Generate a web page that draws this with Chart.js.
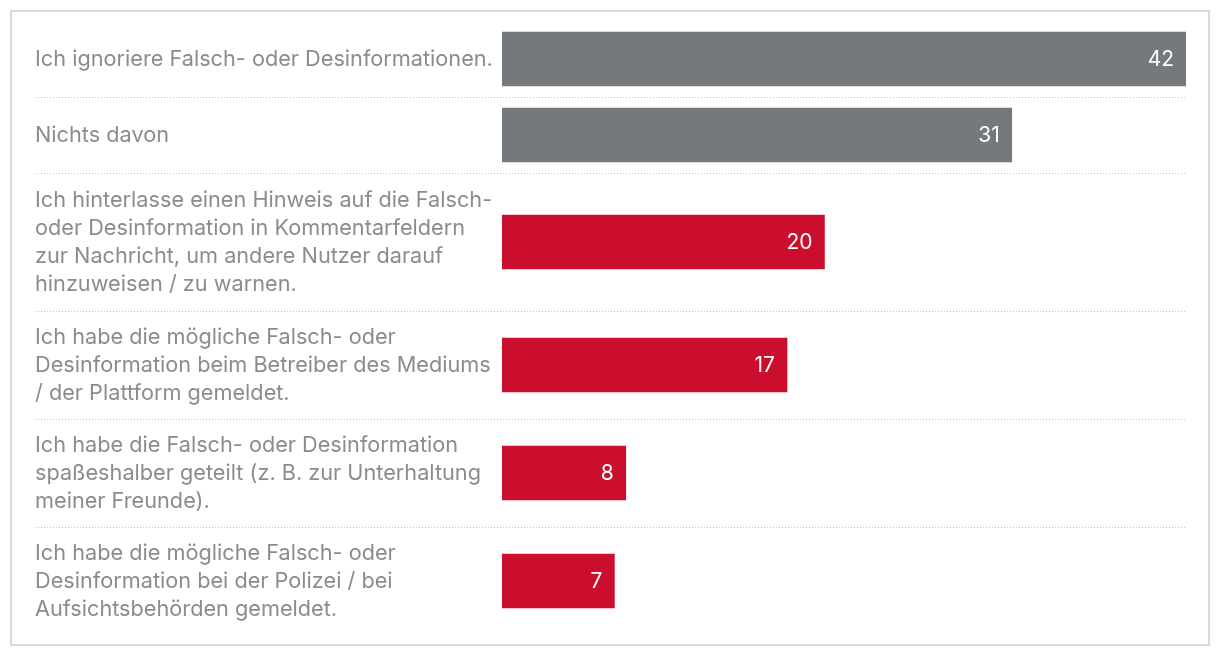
<!DOCTYPE html>
<html><head><meta charset="utf-8">
<script src="https://cdn.jsdelivr.net/npm/chart.js@4/dist/chart.umd.min.js"></script>
<style>html,body{margin:0;padding:0;background:#fff}#wrap{width:1220px;height:658px;position:relative}</style>
</head><body><div id="wrap"><canvas id="c" width="1220" height="658"></canvas></div>
<script>
const categories = [
  ["Ich ignoriere Falsch- oder Desinformationen."],
  ["Nichts davon"],
  ["Ich hinterlasse einen Hinweis auf die Falsch-", "oder Desinformation in Kommentarfeldern", "zur Nachricht, um andere Nutzer darauf", "hinzuweisen / zu warnen."],
  ["Ich habe die mögliche Falsch- oder", "Desinformation beim Betreiber des Mediums", "/ der Plattform gemeldet."],
  ["Ich habe die Falsch- oder Desinformation", "spaßeshalber geteilt (z. B. zur Unterhaltung", "meiner Freunde)."],
  ["Ich habe die mögliche Falsch- oder", "Desinformation bei der Polizei / bei", "Aufsichtsbehörden gemeldet."]
];
const values = [42, 31.3, 19.8, 17.5, 7.6, 6.9];
const valueLabels = ["42", "31", "20", "17", "8", "7"];
const seriesGroup = ["neutral", "neutral", "action", "action", "action", "action"];

const GRAY = '#75797b', RED = '#cc0e2e', TEXT = '#8c8c8c';
const FONT = 'Inter, Roboto, sans-serif';

// row heights grow with the number of label lines
const rowHeights = categories.map(l => Math.max(76, 18 + 30 * l.length));
const boundaries = [0];
rowHeights.forEach(h => boundaries.push(boundaries[boundaries.length - 1] + h));
const centers = rowHeights.map((h, i) => boundaries[i] + h / 2);
const total = boundaries[boundaries.length - 1];

const frame = {
  id: 'frame',
  beforeDraw(chart) {
    const ctx = chart.ctx;
    ctx.save();
    ctx.strokeStyle = '#dadada';
    ctx.lineWidth = 2;
    ctx.strokeRect(11, 11, 1198, 634);
    ctx.restore();
  },
  beforeDatasetsDraw(chart) {
    const ctx = chart.ctx, y = chart.scales.y, area = chart.chartArea;
    ctx.save();
    ctx.strokeStyle = '#c6c6c6';
    ctx.lineWidth = 1;
    ctx.setLineDash([1, 2]);
    for (let i = 1; i < boundaries.length - 1; i++) {
      const py = Math.round(y.getPixelForValue(boundaries[i])) + 0.5;
      ctx.beginPath();
      ctx.moveTo(y.left, py);
      ctx.lineTo(area.right, py);
      ctx.stroke();
    }
    ctx.restore();
  },
  afterDatasetsDraw(chart) {
    const ctx = chart.ctx;
    const meta = chart.getDatasetMeta(0);
    ctx.save();
    ctx.fillStyle = '#ffffff';
    ctx.font = '21px ' + FONT;
    ctx.textAlign = 'right';
    ctx.textBaseline = 'middle';
    meta.data.forEach((bar, i) => {
      ctx.fillText(valueLabels[i], bar.x - 12, bar.y + 1);
    });
    ctx.restore();
  }
};

new Chart(document.getElementById('c'), {
  type: 'bar',
  data: {
    datasets: [{
      data: values.map((v, i) => ({ x: v, y: centers[i] })),
      backgroundColor: seriesGroup.map(g => g === 'neutral' ? GRAY : RED),
      barThickness: 54,
      borderWidth: 0
    }]
  },
  options: {
    indexAxis: 'y',
    responsive: false,
    animation: false,
    layout: { padding: { left: 35, top: 21, right: 34, bottom: 23 } },
    plugins: { legend: { display: false }, tooltip: { enabled: false } },
    scales: {
      x: { type: 'linear', min: 0, max: Math.max(...values), display: false },
      y: {
        type: 'linear', reverse: true, min: 0, max: total, offset: false, bounds: 'data', grace: 0,
        afterBuildTicks: s => { s.ticks = centers.map(v => ({ value: v })); },
        afterFit: s => { s.width = 467; s.paddingTop = 0; s.paddingBottom = 0; s.paddingLeft = 0; s.paddingRight = 0; },
        border: { display: false },
        grid: { display: false, drawTicks: false, offset: false },
        ticks: {
          autoSkip: false,
          crossAlign: 'far',
          padding: 0,
          color: TEXT,
          font: { family: FONT, size: 21.7, lineHeight: 28 / 21.7 },
          callback: (v, i) => categories[i]
        }
      }
    }
  },
  plugins: [frame]
});
</script></body></html>
